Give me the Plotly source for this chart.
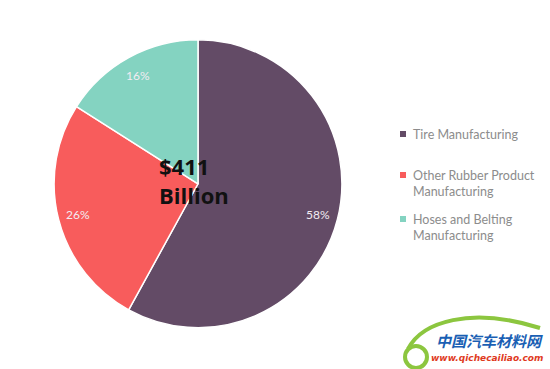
import math
import plotly.graph_objects as go

categories = ["Tire Manufacturing", "Other Rubber Product<br>Manufacturing", "Hoses and Belting<br>Manufacturing"]
values = [58, 26, 16]
pct_text = ["58%", "26%", "16%"]
colors = ["#634B66", "#F85C5C", "#84D3C1"]
center_text = "$411<br>Billion"

W, H = 550, 369
dom_x = [0.098, 0.622]
dom_y = [0.112, 0.892]


def px(x):
    return x / W


def py(y):
    return 1 - y / H


fig = go.Figure()
fig.add_trace(go.Pie(
    labels=categories,
    values=values,
    textinfo="none",
    hoverinfo="label+percent",
    marker=dict(colors=colors, line=dict(color="white", width=1.5)),
    sort=False,
    direction="clockwise",
    rotation=0,
    domain=dict(x=dom_x, y=dom_y),
    showlegend=False,
))

# percentage labels placed along each slice's mid-angle (derived from values)
cx = (dom_x[0] + dom_x[1]) / 2 * W
cy = (dom_y[0] + dom_y[1]) / 2 * H
R = min((dom_x[1] - dom_x[0]) * W, (dom_y[1] - dom_y[0]) * H) / 2
total = sum(values)
cum = 0
for v, t in zip(values, pct_text):
    mid = (cum + v / 2) / total * 2 * math.pi
    cum += v
    r = 0.86 * R
    lx = cx + r * math.sin(mid)
    ly = cy + r * math.cos(mid)
    fig.add_annotation(x=lx / W, y=ly / H, xref="paper", yref="paper", text=t,
                       xanchor="center", yanchor="middle",
                       showarrow=False, font=dict(family="Lato", size=12, color="#F3ECF2"))

fig.add_annotation(
    x=0.352, y=0.51, xref="paper", yref="paper", xanchor="center", yanchor="middle",
    text="<b>" + center_text + "</b>", showarrow=False, align="left",
    font=dict(family="Open Sans", size=22, color="#111111"),
)

# legend drawn as markers + text
legend_y_px = [134, 175, 219]
for name, col, ly in zip(categories, colors, legend_y_px):
    fig.add_shape(type="rect", xref="paper", yref="paper",
                  x0=px(400), x1=px(406), y0=py(ly + 3), y1=py(ly - 3),
                  fillcolor=col, line=dict(width=0))
    fig.add_annotation(x=px(411), y=py(ly - 9), xref="paper", yref="paper",
                       xanchor="left", yanchor="top", align="left", text=name,
                       showarrow=False,
                       font=dict(family="Lato", size=12.5, color="#8C8C8C"))

# watermark logo
fig.add_shape(type="path", xref="paper", yref="paper",
              path=f"M {px(408)},{py(349)} C {px(422)},{py(322)} {px(470)},{py(306)} {px(540)},{py(328)}",
              line=dict(color="#8CC63F", width=4))
fig.add_shape(type="circle", xref="paper", yref="paper",
              x0=px(405), x1=px(427), y0=py(368), y1=py(346),
              line=dict(color="#8CC63F", width=4))
fig.add_annotation(x=px(489), y=py(352), xref="paper", yref="paper", text="<b><i>中国汽车材料网</i></b>",
                   xanchor="center", yanchor="bottom", borderpad=0,
                   showarrow=False, font=dict(family="Noto Sans CJK SC", size=15, color="#1A5FB4"))
fig.add_annotation(x=px(487), y=py(352), xref="paper", yref="paper", text="<b><i>www.qichecailiao.com</i></b>",
                   xanchor="center", yanchor="top", borderpad=0,
                   showarrow=False, font=dict(family="DejaVu Sans", size=9, color="#E03A1E"))

fig.update_layout(
    width=W, height=H,
    margin=dict(l=0, r=0, t=0, b=0),
    paper_bgcolor="white",
    plot_bgcolor="white",
)

fig.write_html("out.html", config={"displayModeBar": False},
               post_script="document.body.style.margin='0';")
